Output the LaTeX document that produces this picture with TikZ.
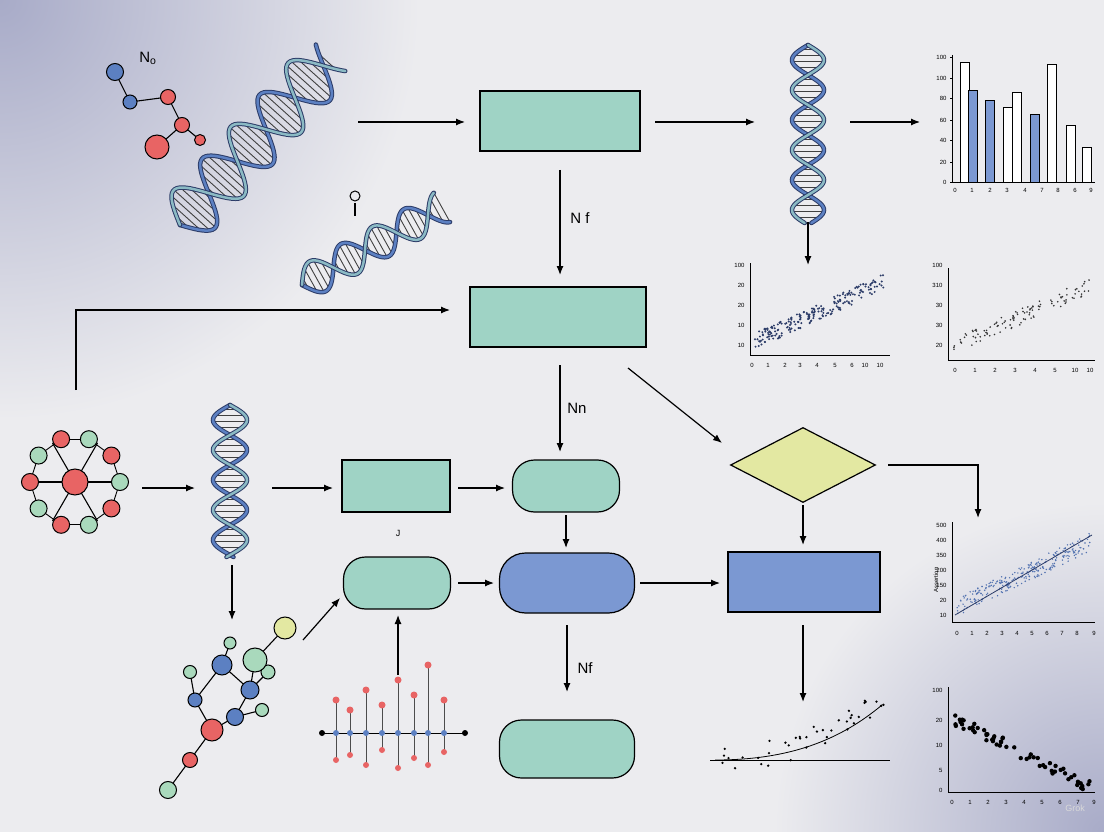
\documentclass[tikz,border=0pt]{standalone}
\usepackage{fontspec}
\setmainfont{Liberation Sans}
\usetikzlibrary{shapes.geometric,arrows.meta,calc}
\definecolor{teal1}{HTML}{9FD3C5}
\definecolor{blue1}{HTML}{7B98D2}
\definecolor{yel1}{HTML}{E3E8A2}
\definecolor{navy}{HTML}{2C3C68}
\definecolor{sblue}{HTML}{5C80C2}
\definecolor{rred}{HTML}{E86464}
\definecolor{ggreen}{HTML}{A9D9BC}
\definecolor{bg}{HTML}{ECECEF}
\definecolor{corner}{HTML}{A8ABC8}
\tikzset{
  arr/.style={-{Latex[length=9pt,width=7pt]},line width=1.2pt,black},
  box/.style={draw=black,line width=1.2pt,fill=teal1,minimum width=#1,minimum height=60pt},
  pill/.style={draw=black,line width=1.2pt,fill=teal1,rounded corners=22pt,minimum width=#1,minimum height=52pt},
  lab/.style={font=\fontsize{15}{17}\selectfont},
  atom/.style={circle,draw=black,line width=1pt,inner sep=0pt,minimum size=#1},
  bond/.style={line width=1.1pt,black},
  ax/.style={line width=0.7pt,black},
  tick/.style={font=\fontsize{6}{7}\selectfont}
}
\newcommand\helix[6]{%
\begin{scope}[shift={(#1,#2)},rotate=#3]
\foreach \s in {4,10,...,#4}{\draw[line width=0.9pt,black!75] (\s,{#5*sin(\s*#6)}) -- (\s,{-#5*sin(\s*#6)});}
\draw[line width=4.5pt,navy,line cap=round] plot[domain=0:#4,samples=100] (\x,{#5*sin(\x*#6)});
\draw[line width=2.5pt,sblue,line cap=round] plot[domain=0:#4,samples=100] (\x,{#5*sin(\x*#6)});
\draw[line width=4.5pt,navy,line cap=round] plot[domain=0:#4,samples=100] (\x,{-#5*sin(\x*#6)});
\draw[line width=2.5pt,teal1!70!sblue,line cap=round] plot[domain=0:#4,samples=100] (\x,{-#5*sin(\x*#6)});
\end{scope}}
\newcommand\scat[9]{%
\draw[ax] (#1,#2-#4) -- (#1,#2) -- (#1+#3,#2);
\foreach \k in {1,...,#5}{
  \pgfmathsetmacro\u{rnd}\pgfmathsetmacro\v{rand}
  \fill[#7] ({#1+5+\u*(#3-10)},{#2-#9*(0.15+0.65*\u)*#4+(#9<0?-0.85*#4:0)-\v*#6}) circle (#8);}
}
\begin{document}
\begin{tikzpicture}[x=1pt,y=-1pt]
\pgfmathsetseed{7}
\useasboundingbox (0,0) rectangle (1104,832);
\begin{scope}
\clip (0,0) rectangle (1104,832);
\fill[bg] (0,0) rectangle (1104,832);
\shade[inner color=corner,outer color=bg] (0,0) circle (420);
\shade[inner color=corner,outer color=bg] (1104,832) circle (330);
\end{scope}

\helix{180}{225}{48}{225}{28}{4.2}
\helix{808}{45}{-90}{178}{16}{6}
\helix{302}{285}{29}{160}{17}{5}
\helix{230}{405}{-90}{152}{17}{6}

\node[box=160pt] (r1) at (560,121) {};
\node[box=176pt] (r2) at (558,317) {};
\node[box=108pt,minimum height=52pt] (r3) at (396,486) {};
\node[pill=107pt] (p1) at (566,486) {};
\node[pill=107pt] (p2) at (397,583) {};
\node[pill=135pt,fill=blue1,minimum height=60pt,rounded corners=26pt] (p3) at (567,583) {};
\node[box=152pt,fill=blue1] (r4) at (804,582) {};
\node[pill=135pt,minimum height=58pt] (p4) at (567,749) {};
\node[diamond,draw=black,line width=1.2pt,fill=yel1,minimum width=145pt,minimum height=75pt,inner sep=0pt,aspect=1.9] (d) at (803,465) {};

\coordinate (a1s) at (358,122); \coordinate (a1e) at (465,122);
\coordinate (a2s) at (655,122); \coordinate (a2e) at (755,122);
\coordinate (a3s) at (850,122); \coordinate (a3e) at (920,122);
\draw[arr] (a1s) -- (a1e);
\draw[arr] (a2s) -- (a2e);
\draw[arr] (a3s) -- (a3e);
\draw[arr] (560,170) -- (560,275);
\node[lab] (l1) at (580,218) {N f};
\coordinate (ls) at (76,390);
\draw[arr] (ls) -- (76,310) -- (450,310);
\draw[arr] (560,365) -- (560,452);
\node[lab] (l2) at (577,408) {Nn};
\draw[arr] (628,368) -- (722,443);
\draw[arr] (888,465) -- (978,465) -- (978,518);
\draw[arr] (803,505) -- (803,545);
\draw[arr] (803,625) -- (803,702);
\draw[arr] (808,222) -- (808,265);
\draw[arr] (142,488) -- (195,488);
\draw[arr] (272,488) -- (333,488);
\draw[arr] (458,488) -- (505,488);
\node[font=\fontsize{9}{10}\selectfont] (jj) at (398,533) {J};
\draw[arr] (566,515) -- (566,548);
\draw[arr] (640,583) -- (720,583);
\draw[arr] (458,583) -- (494,583);
\draw[arr] (303,640) -- (340,598);
\draw[arr] (398,675) -- (398,615);
\draw[arr] (232,565) -- (232,620);
\draw[arr] (567,625) -- (567,692);
\node[lab] (l3) at (585,668) {Nf};

\draw[bond] (115,72) -- (130,102) -- (168,97) -- (182,125) -- (157,147);
\draw[bond] (182,125) -- (200,140);
\node[atom=17pt,fill=sblue] at (115,72) {};
\node[atom=14pt,fill=sblue] at (130,102) {};
\node[atom=15pt,fill=rred] at (168,97) {};
\node[atom=15pt,fill=rred] at (182,125) {};
\node[atom=24pt,fill=rred] at (157,147) {};
\node[atom=11pt,fill=rred] at (200,140) {};
\node[lab] at (148,58) {N\textsubscript{o}};
\draw[line width=1.3pt] (355,203) -- (355,216);
\draw[line width=1pt] (355,196) circle (5);

\foreach \a in {0,36,...,324}{
  \draw[line width=0.9pt] (75,482) ++(\a:45) -- ++({\a+108}:27.8);}
\foreach \a in {0,60,120,180,240,300}{\draw[bond] (75,482) -- ++(\a:45);}
\foreach \a [count=\i] in {0,36,...,324}{
  \ifodd\i \node[atom=17pt,fill=ggreen] at ($(75,482)+(\a:45)$) {};\else\node[atom=17pt,fill=rred] at ($(75,482)+(\a:45)$) {};\fi}
\node[atom=26pt,fill=rred] at (75,482) {};

\draw[bond] (168,790) -- (190,760) -- (212,730) -- (235,717) -- (250,690) -- (255,660) -- (285,628);
\draw[bond] (212,730) -- (195,700) -- (222,665) -- (250,690);
\draw[bond] (235,717) -- (262,710); \draw[bond] (222,665) -- (230,643);
\draw[bond] (195,700) -- (190,672); \draw[bond] (250,690) -- (268,672);
\node[atom=17pt,fill=ggreen] at (168,790) {};
\node[atom=15pt,fill=rred] at (190,760) {};
\node[atom=22pt,fill=rred] at (212,730) {};
\node[atom=17pt,fill=sblue] at (235,717) {};
\node[atom=18pt,fill=sblue] at (250,690) {};
\node[atom=14pt,fill=sblue] at (195,700) {};
\node[atom=20pt,fill=sblue] at (222,665) {};
\node[atom=13pt,fill=ggreen] at (262,710) {};
\node[atom=12pt,fill=ggreen] at (230,643) {};
\node[atom=13pt,fill=ggreen] at (190,672) {};
\node[atom=14pt,fill=ggreen] at (268,672) {};
\node[atom=24pt,fill=ggreen] at (255,660) {};
\node[atom=22pt,fill=yel1] at (285,628) {};

\draw[line width=1pt] (322,733) -- (465,733);
\foreach \x/\t/\b in {336/700/760,350/710/755,366/690/765,382/705/750,398/680/768,414/695/758,428/665/765,444/700/752}{
  \draw[line width=0.9pt,black!70] (\x,\t) -- (\x,\b);
  \fill[rred] (\x,\t) circle (3.5); \fill[rred] (\x,\b) circle (3);
  \fill[sblue] (\x,733) circle (3);}
\fill[black] (322,733) circle (3); \fill[black] (465,733) circle (3);

\draw[ax] (952,55) -- (952,182) -- (1095,182);
\foreach \y/\t in {182/0,162/20,140/40,120/60,98/80,78/100,57/100}{\node[tick,anchor=east] at (950,\y) {\t};\draw[ax] (950,\y)--(952,\y);}
\foreach \x/\h/\f in {960/120/white,968/92/blue1,985/82/blue1,1003/75/white,1012/90/white,1030/68/blue1,1047/118/white,1066/57/white,1082/35/white}{
  \draw[line width=0.7pt,fill=\f] (\x,182) rectangle (\x+9,182-\h);}
\foreach \x/\t in {955/0,972/1,990/2,1007/3,1025/4,1042/7,1058/8,1075/6,1091/9}{\node[tick] at (\x,190) {\t};}

\scat{750}{355}{140}{92}{220}{8}{navy}{1.1pt}{1}
\foreach \x/\t in {752/0,768/1,785/2,800/3,817/4,835/5,852/6,865/10,880/10}{\node[tick] at (\x,365) {\t};}
\foreach \y/\t in {265/100,285/20,305/20,325/10,345/10}{\node[tick,anchor=east] at (748,\y) {\t};}
\scat{948}{360}{147}{92}{110}{8}{black!80}{0.9pt}{1}
\foreach \x/\t in {955/0,975/1,995/2,1015/3,1035/4,1055/5,1075/10,1090/10}{\node[tick] at (\x,370) {\t};}
\foreach \y/\t in {265/100,285/310,305/30,325/30,345/20}{\node[tick,anchor=east] at (946,\y) {\t};}
\scat{952}{622}{143}{100}{280}{9}{sblue!80!navy}{0.8pt}{1}
\foreach \x/\t in {957/0,972/1,987/2,1002/3,1017/4,1032/5,1047/6,1062/7,1077/8,1094/9}{\node[tick] at (\x,633) {\t};}
\foreach \y/\t in {525/500,540/400,555/350,570/200,585/150,600/20,615/10}{\node[tick,anchor=east] at (950,\y) {\t};}
\node[tick,rotate=90] at (936,580) {Assertion};
\draw[navy,line width=0.8pt] (955,615) -- (1092,535);
\scat{948}{792}{147}{105}{60}{6}{black}{2.2pt}{-1}
\foreach \x/\t in {952/0,970/1,988/2,1006/3,1024/4,1042/5,1060/6,1078/7,1094/9}{\node[tick] at (\x,802) {\t};}
\foreach \y/\t in {690/100,720/20,745/10,770/5,790/0}{\node[tick,anchor=east] at (946,\y) {\t};}
\draw[ax] (710,760) -- (890,760);
\draw[line width=0.8pt] (715,760) .. controls (790,760) and (840,740) .. (882,705);
\foreach \k in {1,...,40}{\pgfmathsetmacro\u{rnd}\pgfmathsetmacro\v{rand}
  \fill[black] ({720+\u*165},{760-60*\u*\u+\v*14}) circle (1.3pt);}
\node[font=\fontsize{9}{10}\selectfont,text=white!85!black] at (1075,808) {Grok};
\end{tikzpicture}
\end{document}
